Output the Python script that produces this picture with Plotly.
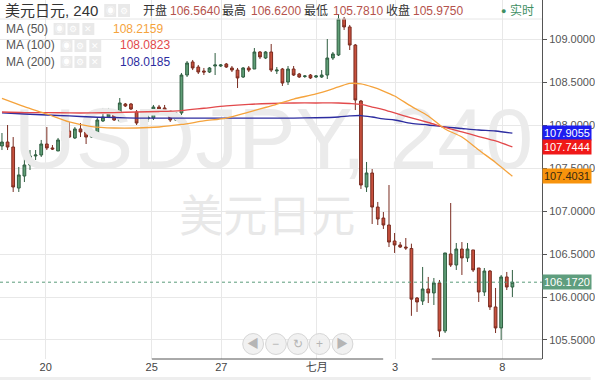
import plotly.graph_objects as go

# ---- USD/JPY 4-hour candles, oldest first ----
opens = [107.756, 107.802, 107.744, 107.267, 107.407, 107.535, 107.640, 107.651, 107.779, 107.733,
         107.698, 107.814, 107.930, 107.849, 107.954, 107.919, 107.860, 107.907, 108.047, 108.093,
         108.128, 108.047, 108.244, 108.244, 108.151, 108.058, 108.070, 108.081, 108.209, 108.198,
         108.163, 108.058, 108.140, 108.581, 108.733, 108.674, 108.628, 108.616, 108.686, 108.686,
         108.709, 108.663, 108.639, 108.558, 108.663, 108.651, 108.849, 108.779, 108.849, 108.628,
         108.651, 108.500, 108.651, 108.593, 108.564, 108.581, 108.558, 108.558, 108.581, 108.779,
         108.814, 109.233, 109.140, 108.930, 108.279, 107.279, 107.442, 107.046, 106.918, 106.837,
         106.651, 106.605, 106.581, 106.564, 105.988, 105.953, 106.093, 106.047, 106.163, 105.605,
         106.500, 106.372, 106.558, 106.454, 106.547, 106.337, 106.058, 106.302, 105.884, 105.640,
         106.233, 106.116]
highs = [107.907, 108.000, 107.860, 107.512, 107.616, 107.709, 107.709, 107.826, 107.977, 107.767,
         107.849, 108.058, 108.035, 107.977, 108.023, 107.942, 107.930, 108.093, 108.198, 108.198,
         108.140, 108.314, 108.256, 108.256, 108.174, 108.116, 108.140, 108.233, 108.233, 108.233,
         108.174, 108.151, 108.605, 108.744, 108.756, 108.698, 108.663, 108.674, 108.837, 108.709,
         108.721, 108.686, 108.663, 108.674, 108.686, 108.895, 108.860, 108.860, 108.942, 108.674,
         108.663, 108.686, 108.686, 108.605, 108.581, 108.593, 108.581, 108.639, 109.000, 108.849,
         109.290, 109.256, 109.163, 108.942, 108.291, 107.570, 107.488, 107.105, 106.988, 107.302,
         106.744, 106.639, 106.686, 106.620, 106.000, 106.349, 106.233, 106.221, 106.198, 106.512,
         107.093, 106.628, 106.639, 106.628, 106.547, 106.337, 106.337, 106.314, 106.105, 106.256,
         106.291, 106.314]
lows = [107.709, 107.709, 107.221, 107.221, 107.337, 107.477, 107.593, 107.628, 107.709, 107.709,
        107.698, 107.733, 107.849, 107.837, 107.860, 107.779, 107.849, 107.849, 108.035, 108.081,
        108.047, 108.047, 108.209, 108.174, 108.000, 107.977, 108.035, 108.058, 108.151, 108.151,
        108.035, 108.047, 108.116, 108.558, 108.639, 108.593, 108.581, 108.605, 108.581, 108.674,
        108.663, 108.616, 108.430, 108.547, 108.616, 108.651, 108.767, 108.767, 108.616, 108.593,
        108.454, 108.465, 108.570, 108.547, 108.547, 108.535, 108.547, 108.547, 108.535, 108.756,
        108.802, 109.105, 108.872, 108.174, 107.256, 107.221, 106.849, 106.837, 106.791, 106.581,
        106.512, 106.570, 106.547, 105.781, 105.826, 105.907, 105.930, 105.907, 105.535, 105.581,
        106.349, 106.314, 106.256, 106.407, 106.291, 105.942, 106.012, 105.849, 105.581, 105.500,
        106.081, 106.000]
closes = [107.802, 107.744, 107.279, 107.419, 107.535, 107.640, 107.651, 107.779, 107.733, 107.721,
          107.826, 107.930, 107.860, 107.954, 107.919, 107.860, 107.907, 108.058, 108.093, 108.128,
          108.058, 108.256, 108.221, 108.186, 108.023, 108.081, 108.093, 108.209, 108.186, 108.174,
          108.058, 108.140, 108.581, 108.721, 108.663, 108.616, 108.616, 108.663, 108.698, 108.698,
          108.674, 108.639, 108.547, 108.663, 108.639, 108.849, 108.791, 108.849, 108.639, 108.639,
          108.488, 108.651, 108.581, 108.558, 108.570, 108.547, 108.570, 108.581, 108.779, 108.826,
          109.233, 109.140, 108.930, 108.291, 107.302, 107.442, 107.046, 106.907, 106.837, 106.639,
          106.605, 106.581, 106.570, 105.975, 105.942, 106.093, 106.047, 106.163, 105.605, 106.512,
          106.372, 106.558, 106.454, 106.558, 106.314, 106.058, 106.302, 105.884, 105.640, 106.233,
          106.116, 106.172]

# ---- moving averages, sampled at candle indices ----
ma_idx = [0, 4, 8, 12, 16, 20, 24, 28, 32, 36, 40, 44, 48, 52, 56, 60, 62, 64, 66, 68, 70, 73,
          76, 79, 82, 85, 88, 91]
ma50 = [108.310, 108.214, 108.128, 108.035, 107.982, 107.965, 107.965, 107.977, 108.006, 108.047,
        108.081, 108.151, 108.221, 108.302, 108.361, 108.442, 108.483, 108.477, 108.442, 108.395,
        108.337, 108.2159, 108.105, 107.954, 107.860, 107.709, 107.565, 107.4031]
ma100 = [108.151, 108.145, 108.145, 108.140, 108.140, 108.145, 108.151, 108.157, 108.168, 108.195,
         108.222, 108.240, 108.250, 108.256, 108.256, 108.256, 108.250, 108.240, 108.209, 108.180,
         108.140, 108.0823, 108.029, 107.971, 107.919, 107.866, 107.814, 107.7444]
ma200 = [108.140, 108.128, 108.116, 108.105, 108.093, 108.087, 108.081, 108.081, 108.081, 108.081,
         108.081, 108.081, 108.081, 108.081, 108.084, 108.093, 108.105, 108.110, 108.093, 108.070,
         108.058, 108.0185, 108.000, 107.977, 107.959, 107.942, 107.930, 107.9055]

# ---- axis labels and legend readouts ----
x_tick_pos = [7.8, 26.7, 39.1, 56.1, 70.1, 89.2]
x_tick_text = ["20", "25", "27", "七月", "3", "8"]
y_ticks = [105.5, 106.0, 106.5, 107.0, 107.5, 108.0, 108.5, 109.0]
last_price = 106.172
header_ohlc = [106.5640, 106.6200, 105.7810, 105.9750]
header_ma = [108.2159, 108.0823, 108.0185]

W, H = 595, 380
ML, MR, MT, MB = 0, 49, 0, 21
PW, PH = W - ML - MR, H - MT - MB

FONT = "Liberation Sans, Arial, Noto Sans CJK SC, sans-serif"
C50, C100, C200 = "#f5a33c", "#e2494b", "#2c2ca0"
UP_FILL, UP_LINE = "#5f9e76", "#2f5e40"
DN_FILL, DN_LINE = "#c8503d", "#7a2c20"


def fx(p):
    return p / PW


def fy(p):
    return 1 - p / PH


n = len(closes)
idx = list(range(n))

fig = go.Figure()

# symbol watermark behind the candles
fig.add_trace(go.Scatter(x=[94.7], y=[107.745], mode="text", text=["USDJPY, 240"],
                         textposition="middle left",
                         textfont=dict(size=86, color="#ebebeb", family=FONT),
                         hoverinfo="skip", showlegend=False))
fig.add_trace(go.Scatter(x=[47.3], y=[106.88], mode="text", text=["美元日元"],
                         textposition="middle center",
                         textfont=dict(size=44, color="#e8e8e8", family="Noto Sans CJK SC"),
                         hoverinfo="skip", showlegend=False))

fig.add_trace(go.Candlestick(
    x=idx, open=opens, high=highs, low=lows, close=closes,
    increasing=dict(line=dict(color=UP_LINE, width=1), fillcolor=UP_FILL),
    decreasing=dict(line=dict(color=DN_LINE, width=1), fillcolor=DN_FILL),
    whiskerwidth=0, showlegend=False, hoverinfo="skip"))

for vals, col in [(ma200, C200), (ma100, C100), (ma50, C50)]:
    fig.add_trace(go.Scatter(x=ma_idx, y=vals, mode="lines",
                             line=dict(color=col, width=1.3, shape="spline", smoothing=0.8),
                             hoverinfo="skip", showlegend=False))

shapes = []
annotations = []

# last price dotted line
shapes.append(dict(type="line", xref="paper", x0=0, x1=1, yref="y", y0=last_price, y1=last_price,
                   line=dict(color="#5a9c7a", width=1, dash="dot")))

# legend separator and bottom axis line
shapes.append(dict(type="line", xref="paper", yref="paper", x0=0, x1=1, y0=fy(19), y1=fy(19),
                   line=dict(color="#e6e6e6", width=1)))
for a, b in [(153, 386), (435, 546)]:
    shapes.append(dict(type="line", xref="paper", yref="paper", x0=fx(a), x1=fx(b),
                       y0=0, y1=0, line=dict(color="#555555", width=1)))
shapes.append(dict(type="rect", xref="paper", yref="paper", x0=-0.01, x1=W / PW,
                   y0=fy(377), y1=fy(381), line=dict(width=0), fillcolor="#eeeeee"))

# right-axis value tags
tags = [(ma200[-1], "#1d1df0", "white"), (ma100[-1], "#f01818", "white"),
        (ma50[-1], "#f7930c", "#3a2a10"), (last_price, "#5f9e7e", "white")]
for v, bg, fg in tags:
    annotations.append(dict(xref="paper", x=1, xanchor="left", yref="y", y=v, yanchor="middle",
                            text=f"{v:.4f}", showarrow=False, bgcolor=bg, borderpad=1,
                            font=dict(size=11, color=fg, family=FONT)))

# legend header rows
def label(text, x, y, color, size=12, anchor="left"):
    annotations.append(dict(xref="paper", yref="paper", x=fx(x), y=fy(y), xanchor=anchor,
                            yanchor="middle", text=text, showarrow=False,
                            font=dict(size=size, color=color, family=FONT)))


label("美元日元, 240", 3, 11, "#333333", 15)
label("开盘", 142, 11, "#333333", 12)
label(f"{header_ohlc[0]:.4f}", 169, 11, "#b5524c", 12)
label("最高", 222, 11, "#333333", 12)
label(f"{header_ohlc[1]:.4f}", 251, 11, "#b5524c", 12)
label("最低", 304, 11, "#333333", 12)
label(f"{header_ohlc[2]:.4f}", 333, 11, "#b5524c", 12)
label("收盘", 387, 11, "#333333", 12)
label(f"{header_ohlc[3]:.4f}", 414, 11, "#b5524c", 12)
label("●", 503, 11, "#3f8f63", 9)
label("实时", 512, 11, "#3f8f63", 12)

label("MA (50)", 4, 29, "#555555", 12)
label(f"{header_ma[0]:.4f}", 112, 29, C50, 12)
label("MA (100)", 4, 45, "#555555", 12)
label(f"{header_ma[1]:.4f}", 119, 45, C100, 12)
label("MA (200)", 4, 62, "#555555", 12)
label(f"{header_ma[2]:.4f}", 119, 62, C200, 12)

# small icon buttons beside the legend rows
icon_rows = [(4, 17, [(105, 117, "◉"), (119, 131, "⚙")]),
             (23, 35, [(54, 66, "◉"), (68, 80, "⚙"), (83, 95, "✕")]),
             (40, 52, [(61, 73, "◉"), (75, 87, "⚙"), (90, 102, "✕")]),
             (56, 68, [(61, 73, "◉"), (75, 87, "⚙"), (90, 102, "✕")])]
for y0, y1, boxes in icon_rows:
    for x0, x1, g in boxes:
        shapes.append(dict(type="rect", xref="paper", yref="paper", x0=fx(x0), x1=fx(x1),
                           y0=fy(y1), y1=fy(y0), line=dict(width=0), fillcolor="#e9e9e9"))
        label(g, (x0 + x1) / 2, (y0 + y1) / 2, "#ffffff", 9, "center")

# navigation buttons at the bottom of the pane
for cx, g in zip([255, 278, 300, 322, 345], ["◀", "−", "↻", "+", "▶"]):
    r = 10.5
    shapes.append(dict(type="circle", xref="paper", yref="paper", x0=fx(cx - r), x1=fx(cx + r),
                       y0=fy(344 + r), y1=fy(344 - r), line=dict(color="#d6d6d6", width=1),
                       fillcolor="rgba(238,238,238,0.85)"))
    label(g, cx, 344, "#b5b5b5", 12, "center")

fig.update_layout(
    width=W, height=H, margin=dict(l=ML, r=MR, t=MT, b=MB),
    paper_bgcolor="white", plot_bgcolor="white", hovermode=False,
    shapes=shapes, annotations=annotations, showlegend=False,
    xaxis=dict(range=[-0.35, 96.28], rangeslider=dict(visible=False), tickmode="array",
               tickvals=x_tick_pos, ticktext=x_tick_text, showgrid=True, gridcolor="#e8e8e8",
               gridwidth=1, zeroline=False, showline=False, ticks="",
               tickfont=dict(size=11, color="#444444", family=FONT)),
    yaxis=dict(range=[105.279, 109.4535], side="right", tickmode="array", tickvals=y_ticks,
               ticktext=[f"{v:.4f}" for v in y_ticks], showgrid=True, gridcolor="#e8e8e8",
               zeroline=False, showline=True, linecolor="#555555", linewidth=1,
               ticks="outside", ticklen=4, tickcolor="#555555",
               tickfont=dict(size=11, color="#555555", family=FONT)),
)

fig.write_html("out.html")
